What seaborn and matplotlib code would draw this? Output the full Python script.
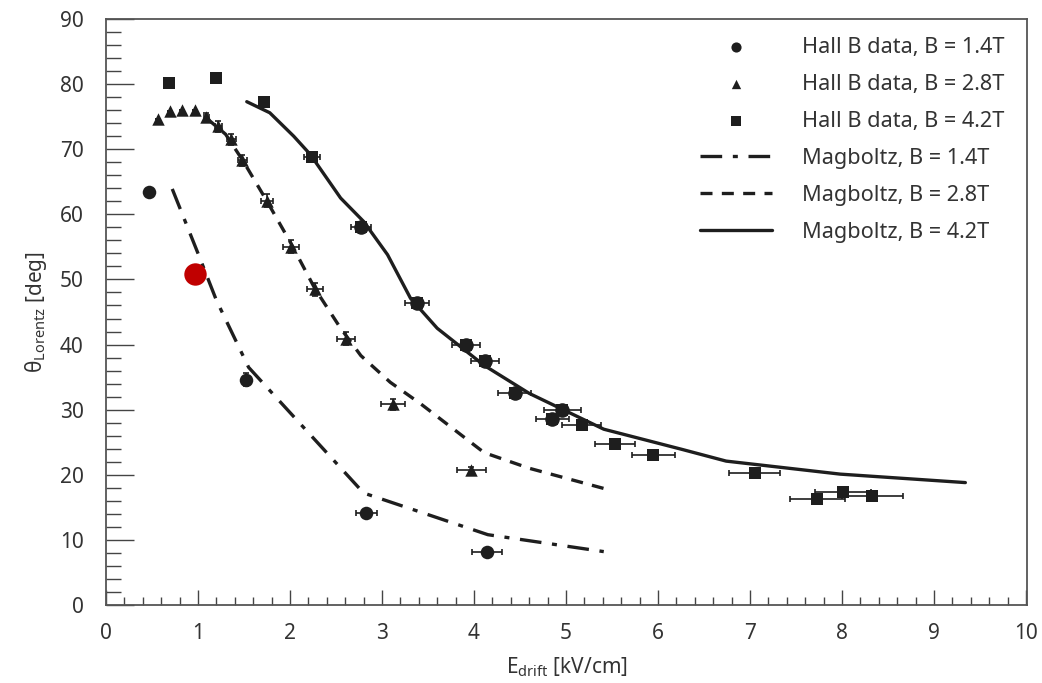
import numpy as np
import pandas as pd
import matplotlib
matplotlib.use("Agg")
import matplotlib.pyplot as plt
from matplotlib.ticker import MultipleLocator
import seaborn as sns

# ---------------- data ----------------
# Hall B data, B = 1.4T (circles)
e14 = [0.47, 1.52, 2.83, 4.14]
t14 = [63.5, 34.6, 14.1, 8.2]
ex14 = [0.0, 0.02, 0.11, 0.16]
ey14 = [0.0, 1.0, 0.5, 0.5]

# Hall B data, B = 2.8T (triangles)
e28 = [0.57, 0.70, 0.83, 0.97, 1.09, 1.22, 1.36, 1.48, 1.75, 2.01, 2.27, 2.61, 3.12, 3.97]
t28 = [74.6, 75.8, 76.1, 76.0, 75.0, 73.5, 71.5, 68.3, 62.1, 55.0, 48.5, 40.9, 30.8, 20.7]
ex28 = [0.0, 0.0, 0.0, 0.0, 0.03, 0.04, 0.05, 0.05, 0.07, 0.09, 0.09, 0.10, 0.13, 0.16]
ey28 = [0.0, 0.0, 0.0, 0.0, 0.5, 0.8, 0.8, 0.8, 1.0, 1.0, 1.0, 1.0, 0.8, 0.5]

# Hall B data, B = 4.2T (squares)
e42 = [0.68, 1.20, 1.72, 2.24, 2.77, 3.38, 3.91, 4.12, 4.44, 4.85, 4.96, 5.17, 5.53, 5.95, 7.05, 7.73, 8.01, 8.33]
t42 = [80.2, 80.9, 77.2, 68.8, 58.0, 46.4, 39.9, 37.4, 32.5, 28.5, 29.9, 27.6, 24.7, 23.1, 20.2, 16.3, 17.3, 16.8]
ex42 = [0.0, 0.0, 0.05, 0.09, 0.11, 0.13, 0.15, 0.15, 0.18, 0.18, 0.20, 0.21, 0.22, 0.23, 0.28, 0.30, 0.30, 0.33]
ey42 = [0.0, 0.0, 0.5, 0.5, 0.8, 0.8, 0.8, 0.8, 0.8, 0.5, 0.5, 0.5, 0.5, 0.5, 0.5, 0.5, 0.5, 0.5]

# rounded (circle) points overlapping the 4.2T squares
eov = [2.77, 3.38, 3.91, 4.12, 4.44, 4.85, 4.96]
tov = [58.0, 46.4, 39.9, 37.4, 32.5, 28.5, 29.9]

# highlighted point (red)
e_red = [0.97]
t_red = [50.9]

# Magboltz simulations
m14_e = [0.72, 1.00, 1.20, 1.55, 2.80, 4.15, 5.41]
m14_t = [63.9, 54.0, 46.8, 36.5, 17.2, 10.8, 8.2]

m28_e = [1.09, 1.30, 1.49, 1.75, 2.02, 2.27, 2.55, 2.77, 3.09, 3.42, 4.11, 4.60, 5.41]
m28_t = [74.8, 72.3, 68.2, 62.0, 55.3, 48.6, 42.5, 38.3, 34.2, 30.9, 23.4, 21.0, 17.9]

m42_e = [1.53, 1.78, 2.04, 2.22, 2.55, 2.80, 3.06, 3.31, 3.60, 4.11, 4.60, 5.41, 6.26, 6.74, 7.98, 9.34]
m42_t = [77.3, 75.6, 72.0, 69.2, 62.5, 58.9, 53.8, 47.1, 42.5, 36.8, 32.5, 27.0, 23.9, 22.1, 20.1, 18.8]

# ---------------- style ----------------
sns.set_theme(style="ticks")
plt.rcParams['font.family'] = ['Noto Sans', 'DejaVu Sans']
plt.rcParams['mathtext.default'] = 'regular'

W, H = 1042, 683
fig = plt.figure(figsize=(W / 100, H / 100), dpi=100)
ax = fig.add_axes([106 / W, 1 - 605 / H, (1027 - 106) / W, (605 - 19) / H])

ink = '#1e1e1e'
txt = '#333333'

# Magboltz lines
sns.lineplot(x=m14_e, y=m14_t, ax=ax, color=ink, lw=2.4, sort=False,
             dashes=False, label='Magboltz, B = 1.4T')
sns.lineplot(x=m28_e, y=m28_t, ax=ax, color=ink, lw=2.4, sort=False,
             dashes=False, label='Magboltz, B = 2.8T')
sns.lineplot(x=m42_e, y=m42_t, ax=ax, color=ink, lw=2.4, sort=False,
             dashes=False, label='Magboltz, B = 4.2T')
lines = ax.get_lines()
lines[0].set_dashes([6.5, 3.2, 1.5, 3.2])
lines[1].set_dashes([3.6, 2.8])
lines[2].set_linestyle('-')

# error bars
ekw = dict(fmt='none', ecolor=ink, elinewidth=1.2, capsize=2.5, capthick=1.2, zorder=3)
ax.errorbar(e14, t14, xerr=ex14, yerr=ey14, **ekw)
ax.errorbar(e28, t28, xerr=ex28, yerr=ey28, **ekw)
ax.errorbar(e42, t42, xerr=ex42, yerr=ey42, **ekw)

# data points
sns.scatterplot(x=e14, y=t14, ax=ax, marker='o', s=95, color=ink, edgecolor=ink,
                linewidth=0, zorder=4, label='Hall B data, B = 1.4T')
sns.scatterplot(x=e28, y=t28, ax=ax, marker='^', s=80, color=ink, edgecolor=ink,
                linewidth=0, zorder=4, label='Hall B data, B = 2.8T')
sns.scatterplot(x=e42, y=t42, ax=ax, marker='s', s=85, color=ink, edgecolor=ink,
                linewidth=0, zorder=4, label='Hall B data, B = 4.2T')
sns.scatterplot(x=eov, y=tov, ax=ax, marker='o', s=110, color=ink, edgecolor=ink,
                linewidth=0, zorder=4, legend=False)
sns.scatterplot(x=e_red, y=t_red, ax=ax, marker='o', s=260, color='#c00000',
                edgecolor='#c00000', linewidth=0, zorder=5, legend=False)

# axes
ax.set_xlim(0, 10.01)
ax.set_ylim(0, 90)
ax.xaxis.set_major_locator(MultipleLocator(1))
ax.xaxis.set_minor_locator(MultipleLocator(0.2))
ax.yaxis.set_major_locator(MultipleLocator(10))
ax.yaxis.set_minor_locator(MultipleLocator(2))
ax.tick_params(axis='x', which='major', direction='in', length=11, width=1.0,
               colors='#444444', labelcolor=txt, labelsize=15, pad=13, top=False)
ax.tick_params(axis='x', which='minor', direction='in', length=6, width=1.0,
               colors='#444444', top=False)
ax.tick_params(axis='y', which='major', direction='in', length=20, width=1.0,
               colors='#444444', labelcolor=txt, labelsize=15, pad=16, right=False)
ax.tick_params(axis='y', which='minor', direction='in', length=11, width=1.0,
               colors='#444444', right=False)
for sp in ax.spines.values():
    sp.set_visible(True)
    sp.set_color('#555555')
    sp.set_linewidth(1.3)

ax.set_xlabel('E$_{drift}$ [kV/cm]', fontsize=15, color=txt, labelpad=8)
ax.set_ylabel('θ$_{Lorentz}$ [deg]', fontsize=15, color=txt, labelpad=8)

# legend
h, l = ax.get_legend_handles_labels()
order = ['Hall B data, B = 1.4T', 'Hall B data, B = 2.8T', 'Hall B data, B = 4.2T',
         'Magboltz, B = 1.4T', 'Magboltz, B = 2.8T', 'Magboltz, B = 4.2T']
hd = dict(zip(l, h))
leg = ax.legend([hd[k] for k in order], order, loc='upper right',
                bbox_to_anchor=(0.997, 1.003), frameon=False, fontsize=15.6,
                handlelength=3.3, handletextpad=1.4, labelspacing=0.74,
                markerscale=0.75)
for t in leg.get_texts():
    t.set_color(txt)

fig.savefig('out.png', dpi=100)
